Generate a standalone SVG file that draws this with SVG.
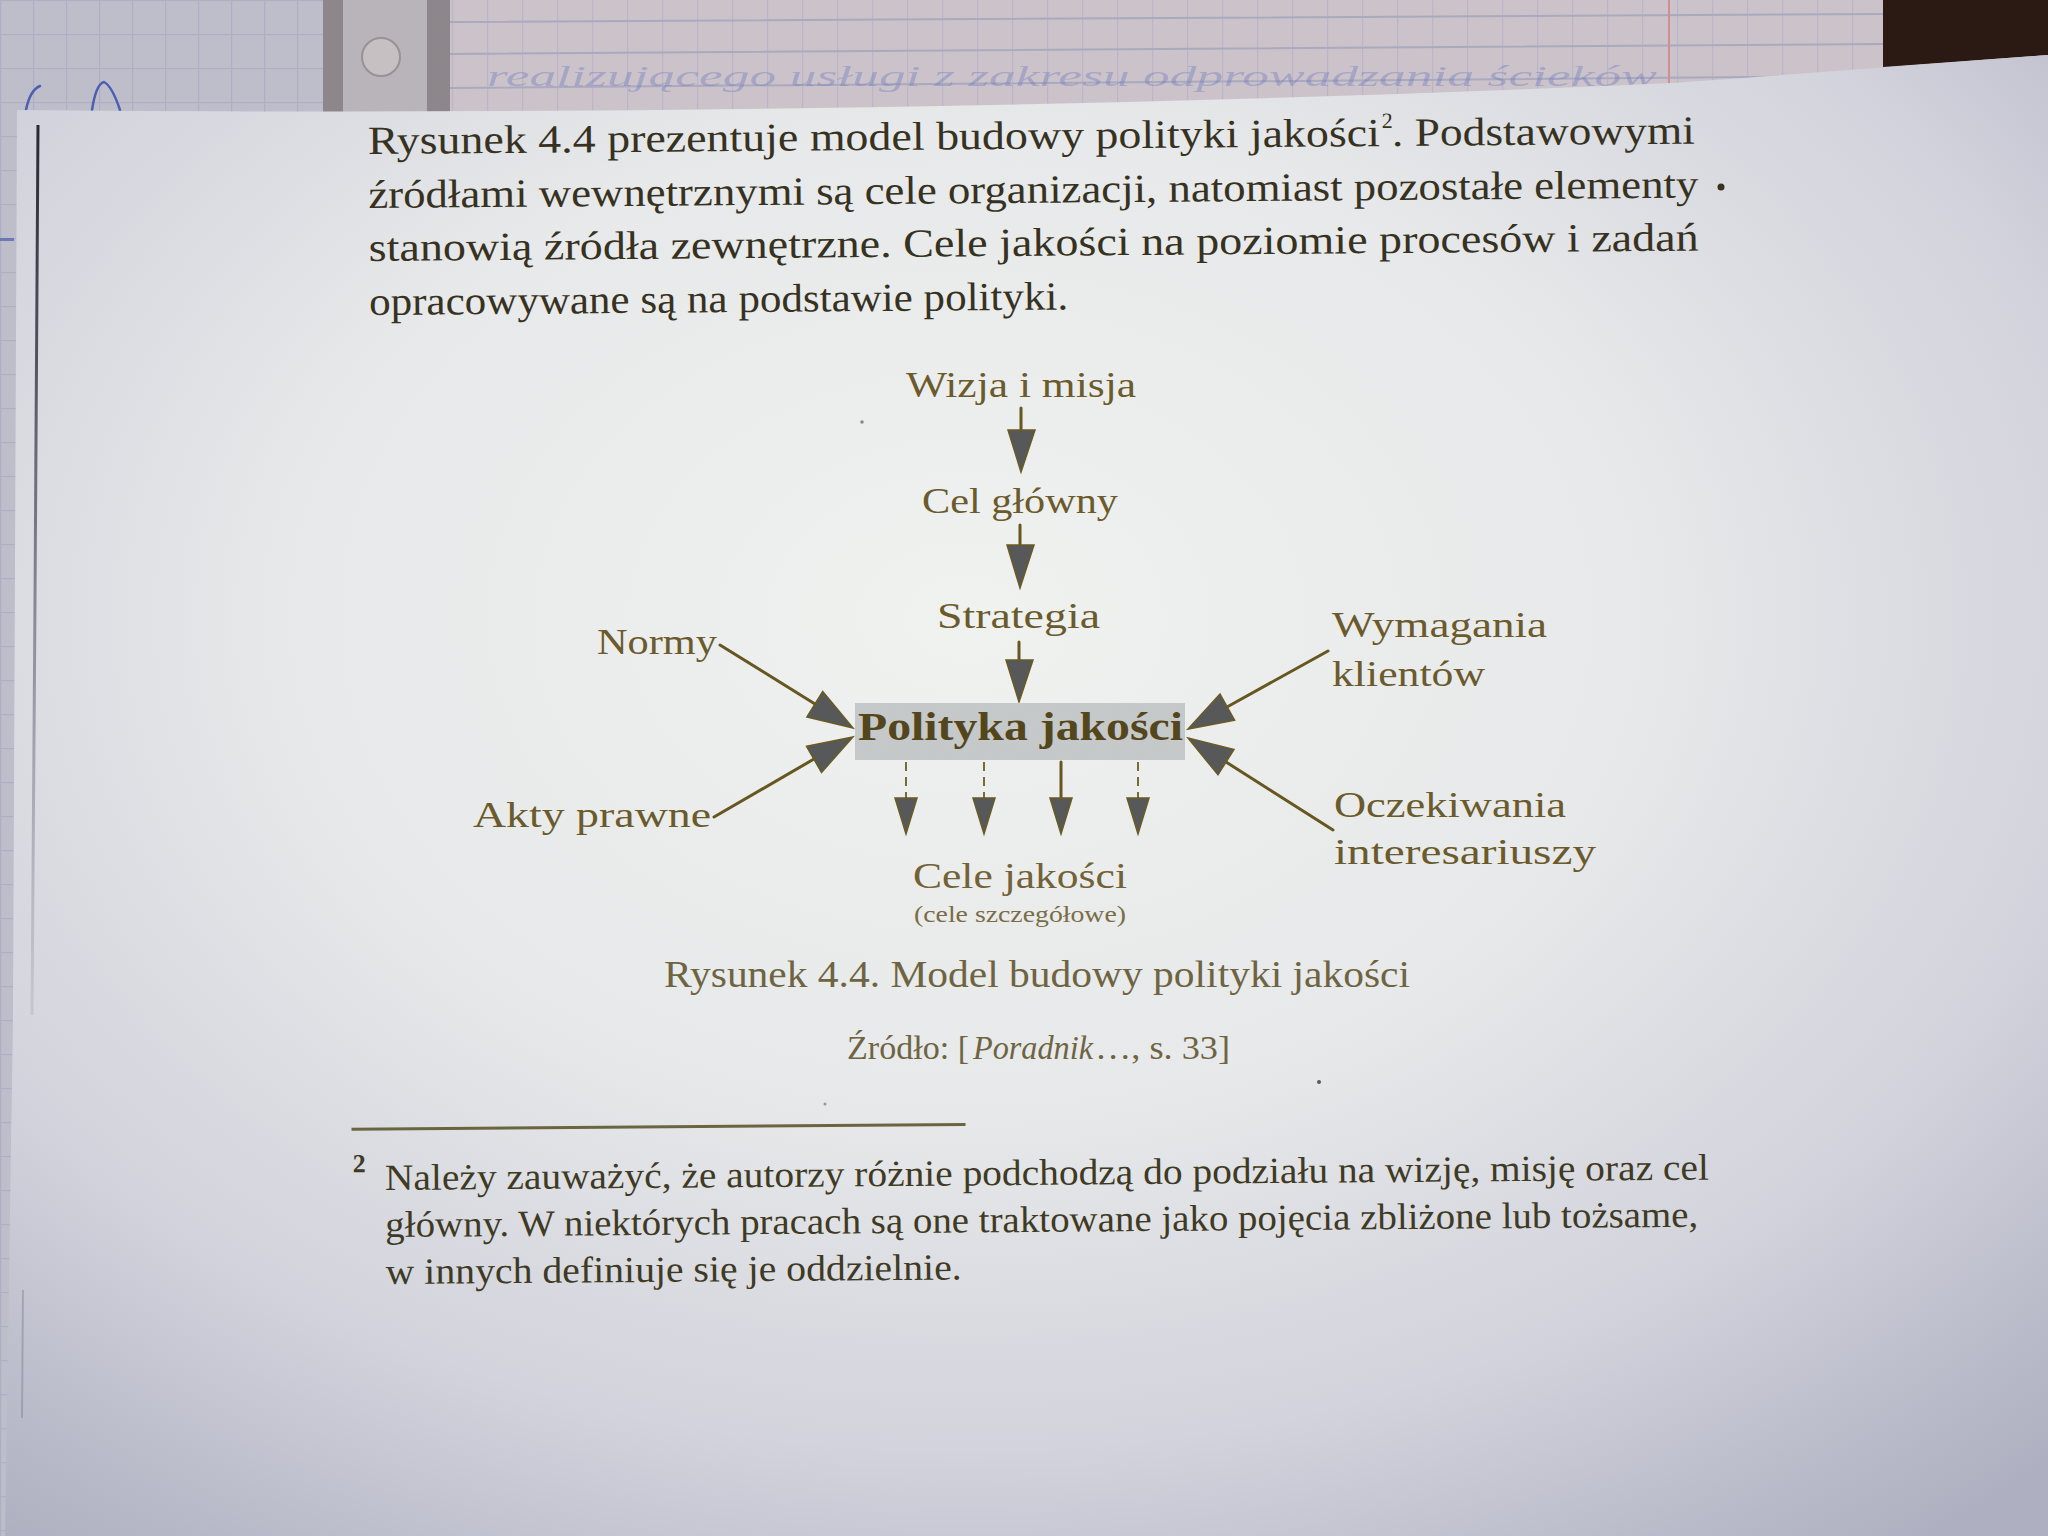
<svg xmlns="http://www.w3.org/2000/svg" width="2048" height="1536" viewBox="0 0 2048 1536">
  <defs>
    <radialGradient id="pageShade" cx="0.47" cy="0.38" r="0.78" fx="0.47" fy="0.38">
      <stop offset="0" stop-color="#eff2ef"/>
      <stop offset="0.42" stop-color="#e7e9ea"/>
      <stop offset="0.72" stop-color="#d2d3dc"/>
      <stop offset="1" stop-color="#aeafc0"/>
    </radialGradient>
    <linearGradient id="inkFade" x1="0" y1="0" x2="0" y2="1">
      <stop offset="0" stop-color="#1e1f2c" stop-opacity="0.95"/>
      <stop offset="0.3" stop-color="#3a3a48" stop-opacity="0.8"/>
      <stop offset="1" stop-color="#6a6a80" stop-opacity="0.15"/>
    </linearGradient>
    <pattern id="gridLeft" x="0" y="0" width="33" height="34" patternUnits="userSpaceOnUse">
      <path d="M0 0.5 H33 M0.5 0 V34" fill="none" stroke="#a2a6c0" stroke-width="1.5"/>
    </pattern>
    <pattern id="ruledRight" x="452" y="0" width="35" height="200" patternUnits="userSpaceOnUse">
      <path d="M0.5 0 V200" fill="none" stroke="#b4b1c6" stroke-width="1.5"/>
    </pattern>
    <filter id="halftone" x="0" y="0" width="1" height="1">
      <feTurbulence type="fractalNoise" baseFrequency="0.9" numOctaves="2" seed="4" result="n"/>
      <feColorMatrix in="n" type="matrix" values="0 0 0 0 0.6  0 0 0 0 0.62  0 0 0 0 0.62  0 0 0 0.35 0" result="g"/>
      <feComposite in="g" in2="SourceGraphic" operator="in" result="gm"/>
      <feMerge><feMergeNode in="SourceGraphic"/><feMergeNode in="gm"/></feMerge>
    </filter>
  </defs>

  <style>
    .body { font-family: "Liberation Serif", "DejaVu Serif", serif; font-size: 40px; fill: #37321f; }
    .note { font-family: "Liberation Serif", "DejaVu Serif", serif; font-size: 37px; fill: #3f3a24; }
    .sup  { font-family: "Liberation Serif", "DejaVu Serif", serif; font-size: 22px; fill: #37321f; }
    .lbl  { font-family: "Liberation Serif", "DejaVu Serif", serif; font-size: 36px; fill: #6b5a2c; }
    .main { font-family: "Liberation Serif", "DejaVu Serif", serif; font-size: 39px; font-weight: bold; fill: #54461c; }
    .small { font-family: "Liberation Serif", "DejaVu Serif", serif; font-size: 23px; fill: #7a6c46; }
    .cap  { font-family: "Liberation Serif", "DejaVu Serif", serif; font-size: 38px; fill: #6e6442; }
    .src  { font-family: "Liberation Serif", "DejaVu Serif", serif; font-size: 34px; fill: #6e6442; }
    .hand { font-family: "Liberation Serif", serif; font-style: italic; font-size: 30px; fill: #6f7cc0; }
    .line { fill: none; stroke: #66561f; stroke-width: 3; stroke-linecap: round; }
    .dash { fill: none; stroke: #7a6a34; stroke-width: 2; stroke-dasharray: 9 6; }
    .head { fill: #56585a; stroke: #6b5a22; stroke-width: 1.5; stroke-linejoin: miter; }
  </style>

  <!-- notebook underneath -->
  <rect x="0" y="0" width="2048" height="1536" fill="#c7c0c9"/>
  <rect x="0" y="0" width="323" height="1536" fill="#bebdca"/>
  <rect x="0" y="0" width="323" height="1536" fill="url(#gridLeft)" opacity="0.6"/>
  <rect x="450" y="0" width="1433" height="120" fill="#cbc3c9"/>
  <rect x="450" y="0" width="1433" height="120" fill="url(#ruledRight)" opacity="0.7"/>
  <path d="M450 22 Q1100 18 1883 14 M450 54 Q1100 50 1883 44 M450 88 Q1100 84 1883 76" fill="none" stroke="#aaa9be" stroke-width="2"/>
  <line x1="1669" y1="0" x2="1669" y2="90" stroke="#d38e95" stroke-width="2"/>

  <!-- binder strip with punched hole -->
  <rect x="323" y="0" width="127" height="120" fill="#b8b4ba"/>
  <rect x="323" y="0" width="20" height="120" fill="#8d878c"/>
  <rect x="427" y="0" width="23" height="120" fill="#8d878c"/>
  <circle cx="381" cy="57" r="19" fill="#c6c0c3" stroke="#9a9095" stroke-width="2"/>

  <!-- pen marks on the notebook -->
  <path d="M26 110 Q30 90 40 86" fill="none" stroke="#4c5fb0" stroke-width="2.5" stroke-linecap="round"/>
  <path d="M92 110 Q96 84 104 82 Q112 86 120 110" fill="none" stroke="#4c5fb0" stroke-width="2.5" stroke-linecap="round"/>
  <text class="hand" x="487" y="86" textLength="1170" lengthAdjust="spacingAndGlyphs" opacity="0.4">realizującego usługi z zakresu odprowadzania ścieków</text>

  <!-- dark corner behind the sheet -->
  <path d="M1883 0 H2048 V55 L1883 67 Z" fill="#2b1a14"/>

  <!-- the printed sheet -->
  <path d="M17 110 Q900 118 1672 83 Q1800 74 2048 55 V1536 H5 L13 1015 Z" fill="url(#pageShade)"/>
  <path d="M38 125 L35 600 L32 1015" fill="none" stroke="url(#inkFade)" stroke-width="3"/>
  <path d="M23 1290 L22 1418" fill="none" stroke="#6a6a80" stroke-width="2" opacity="0.35"/>
  <rect x="0" y="238" width="14" height="3" fill="#4c5fb0" opacity="0.7"/>

  <!-- body paragraph -->
  <g id="paragraph" transform="rotate(-0.45 368 154)">
    <text class="body" x="368" y="154" textLength="1012" lengthAdjust="spacingAndGlyphs">Rysunek 4.4 prezentuje model budowy polityki jakości</text>
    <text class="sup" x="1382" y="136">2</text>
    <text class="body" x="1392" y="154" textLength="303" lengthAdjust="spacingAndGlyphs">. Podstawowymi</text>
    <text class="body" x="368" y="208" textLength="1330" lengthAdjust="spacingAndGlyphs">źródłami wewnętrznymi są cele organizacji, natomiast pozostałe elementy</text>
    <text class="body" x="368" y="261" textLength="1330" lengthAdjust="spacingAndGlyphs">stanowią źródła zewnętrzne. Cele jakości na poziomie procesów i zadań</text>
    <text class="body" x="368" y="315" textLength="699" lengthAdjust="spacingAndGlyphs">opracowywane są na podstawie polityki.</text>
  </g>
  <circle cx="1721" cy="187" r="3.5" fill="#37321f"/>

  <!-- connectors -->
  <g id="connectors">
    <line class="line" x1="1021" y1="408" x2="1021" y2="432"/>
    <path class="head" d="M1008 430 L1035 430 L1021 472 Z"/>
    <line class="line" x1="1020" y1="525" x2="1020" y2="547"/>
    <path class="head" d="M1007 545 L1034 545 L1020 588 Z"/>
    <line class="line" x1="1019" y1="642" x2="1019" y2="662"/>
    <path class="head" d="M1006 660 L1033 660 L1019 702 Z"/>

    <line class="line" x1="720" y1="645" x2="815" y2="704"/>
    <path class="head" d="M822.7 691.5 L853 728 L806.9 716.9 Z"/>
    <line class="line" x1="714" y1="817" x2="814" y2="759"/>
    <path class="head" d="M821.5 772.4 L853 737 L806.5 746.4 Z"/>
    <line class="line" x1="1328" y1="651" x2="1227" y2="707"/>
    <path class="head" d="M1220 694 L1188 729 L1234.6 720.2 Z"/>
    <line class="line" x1="1333" y1="830" x2="1226" y2="762"/>
    <path class="head" d="M1234 749.4 L1188 738 L1218 774.8 Z"/>

    <line class="dash" x1="906" y1="762" x2="906" y2="799"/>
    <path class="head" d="M895 798 L917 798 L906 834 Z"/>
    <line class="dash" x1="984" y1="762" x2="984" y2="799"/>
    <path class="head" d="M973 798 L995 798 L984 834 Z"/>
    <line class="line" x1="1061" y1="762" x2="1061" y2="799" stroke-width="2"/>
    <path class="head" d="M1050 798 L1072 798 L1061 834 Z"/>
    <line class="dash" x1="1138" y1="762" x2="1138" y2="799"/>
    <path class="head" d="M1127 798 L1149 798 L1138 834 Z"/>
  </g>

  <!-- nodes -->
  <g id="node-wizja">
    <text class="lbl" x="906" y="397" textLength="230" lengthAdjust="spacingAndGlyphs">Wizja i misja</text>
  </g>
  <g id="node-cel">
    <text class="lbl" x="922" y="513" textLength="196" lengthAdjust="spacingAndGlyphs">Cel główny</text>
  </g>
  <g id="node-strategia">
    <text class="lbl" x="937" y="628" textLength="163" lengthAdjust="spacingAndGlyphs">Strategia</text>
  </g>
  <g id="node-polityka">
    <rect x="855" y="703" width="330" height="57" fill="#c4c8c8" filter="url(#halftone)"/>
    <text class="main" x="858" y="740" textLength="325" lengthAdjust="spacingAndGlyphs">Polityka jakości</text>
  </g>
  <g id="node-normy">
    <text class="lbl" x="597" y="654" textLength="120" lengthAdjust="spacingAndGlyphs">Normy</text>
  </g>
  <g id="node-akty">
    <text class="lbl" x="473" y="827" textLength="238" lengthAdjust="spacingAndGlyphs">Akty prawne</text>
  </g>
  <g id="node-wymagania">
    <text class="lbl" x="1332" y="637" textLength="215" lengthAdjust="spacingAndGlyphs">Wymagania</text>
    <text class="lbl" x="1332" y="686" textLength="153" lengthAdjust="spacingAndGlyphs">klientów</text>
  </g>
  <g id="node-oczekiwania">
    <text class="lbl" x="1334" y="817" textLength="232" lengthAdjust="spacingAndGlyphs">Oczekiwania</text>
    <text class="lbl" x="1334" y="864" textLength="262" lengthAdjust="spacingAndGlyphs">interesariuszy</text>
  </g>
  <g id="node-cele">
    <text class="lbl" x="913" y="888" textLength="214" lengthAdjust="spacingAndGlyphs" style="fill:#736236">Cele jakości</text>
    <text class="small" x="914" y="922" textLength="212" lengthAdjust="spacingAndGlyphs">(cele szczegółowe)</text>
  </g>

  <!-- figure caption and source -->
  <g id="caption">
    <text class="cap" x="664" y="987" textLength="746" lengthAdjust="spacingAndGlyphs">Rysunek 4.4. Model budowy polityki jakości</text>
    <text class="src" x="847" y="1059" textLength="122" lengthAdjust="spacingAndGlyphs">Źródło: [</text>
    <text class="src" x="973" y="1059" textLength="120" lengthAdjust="spacingAndGlyphs" style="font-style:italic">Poradnik</text>
    <text class="src" x="1095" y="1059" textLength="135" lengthAdjust="spacingAndGlyphs">…, s. 33]</text>
  </g>

  <!-- footnote -->
  <g id="footnote" transform="rotate(-0.45 385 1190)">
    <line x1="352" y1="1129" x2="966" y2="1129" stroke="#6a6440" stroke-width="3"/>
    <text class="sup" x="353" y="1172" style="fill:#3f3a24;font-size:26px;font-weight:bold">2</text>
    <text class="note" x="385" y="1190" textLength="1324" lengthAdjust="spacingAndGlyphs">Należy zauważyć, że autorzy różnie podchodzą do podziału na wizję, misję oraz cel</text>
    <text class="note" x="385" y="1237" textLength="1313" lengthAdjust="spacingAndGlyphs">główny. W niektórych pracach są one traktowane jako pojęcia zbliżone lub tożsame,</text>
    <text class="note" x="385" y="1284" textLength="576" lengthAdjust="spacingAndGlyphs">w innych definiuje się je oddzielnie.</text>
  </g>

  <!-- specks on the paper -->
  <circle cx="862" cy="422" r="1.8" fill="#8a8a80"/>
  <circle cx="1319" cy="1082" r="2" fill="#5a5a50"/>
  <circle cx="825" cy="1104" r="1.5" fill="#9a9a90"/>
</svg>
